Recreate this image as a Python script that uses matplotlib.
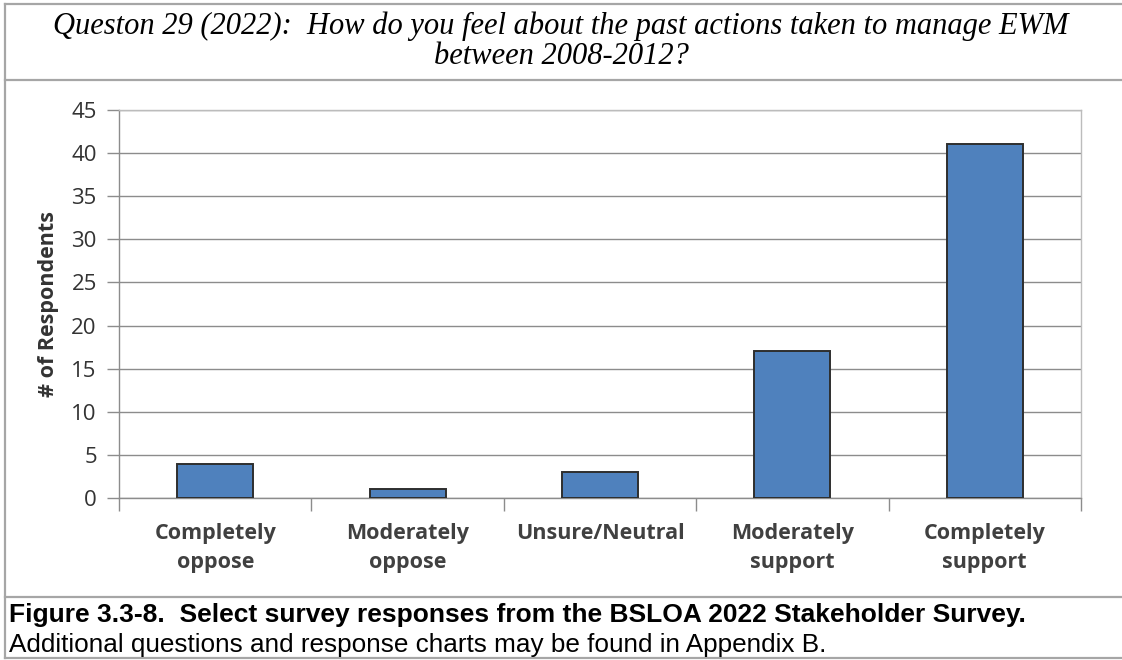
import matplotlib.pyplot as plt
from matplotlib.lines import Line2D

categories = ["Completely\noppose", "Moderately\noppose", "Unsure/Neutral",
              "Moderately\nsupport", "Completely\nsupport"]
respondents = [4, 1, 3, 17, 41]
y_ticks = [0, 5, 10, 15, 20, 25, 30, 35, 40, 45]

title = "Queston 29 (2022):  How do you feel about the past actions taken to manage EWM\nbetween 2008-2012?"
caption_bold = "Figure 3.3-8.  Select survey responses from the BSLOA 2022 Stakeholder Survey."
caption_plain = "Additional questions and response charts may be found in Appendix B."

W, H = 1122, 660
fig = plt.figure(figsize=(W / 100, H / 100), dpi=100)
ax = fig.add_axes([119 / W, 1 - 498 / H, (1081 - 119) / W, (498 - 110) / H])

pos = list(range(len(categories)))
ax.bar(pos, respondents, width=0.395, color="#4F81BD", edgecolor="#2e2e2e",
       linewidth=1.4, zorder=3)

ax.set_xlim(-0.5, len(categories) - 0.5)
ax.set_ylim(0, 45)
ax.set_yticks(y_ticks)
ax.yaxis.grid(True, color="#8c8c8c", linewidth=1.0, zorder=0)

# category labels centred, tick marks on the boundaries
ax.set_xticks(pos)
ax.set_xticklabels(categories, fontsize=15.5, fontweight="bold", color="#404040",
                   family="Open Sans", linespacing=1.5)
ax.tick_params(axis="x", which="major", length=0, pad=18)
ax.set_xticks([p - 0.5 for p in pos] + [len(pos) - 0.5], minor=True)
ax.tick_params(axis="x", which="minor", length=9, color="#8c8c8c", width=1)

ax.tick_params(axis="y", length=9, color="#8c8c8c", width=1, labelsize=16,
               labelcolor="#333333", pad=7)
for lab in ax.get_yticklabels():
    lab.set_family("Open Sans")

ax.set_ylabel("# of Respondents", fontsize=15.5, fontweight="bold", family="Open Sans",
              color="#333333", labelpad=9)

for side in ["left", "bottom"]:
    ax.spines[side].set_color("#8c8c8c")
for side in ["top", "right"]:
    ax.spines[side].set_color("#bcbcbc")
for sp in ax.spines.values():
    sp.set_linewidth(1.0)

# outer frame of the figure block
border = "#a6a6a6"
for yy in [4, 80, 597, 658]:
    fig.add_artist(Line2D([5 / W, 1], [1 - yy / H] * 2, color=border, lw=1.6))
fig.add_artist(Line2D([5 / W] * 2, [1 - 4 / H, 1 - 658 / H], color=border, lw=1.6))

fig.text(0.5, 1 - 41 / H, title, ha="center", va="center", fontsize=22,
         family="Liberation Serif", style="italic", linespacing=1.03)
fig.text(9 / W, 1 - 615 / H, caption_bold, ha="left", va="center", fontsize=19,
         family="Liberation Sans", fontweight="bold")
fig.text(9 / W, 1 - 645 / H, caption_plain, ha="left", va="center", fontsize=18.8,
         family="Liberation Sans")

fig.savefig("out.png", dpi=100)
